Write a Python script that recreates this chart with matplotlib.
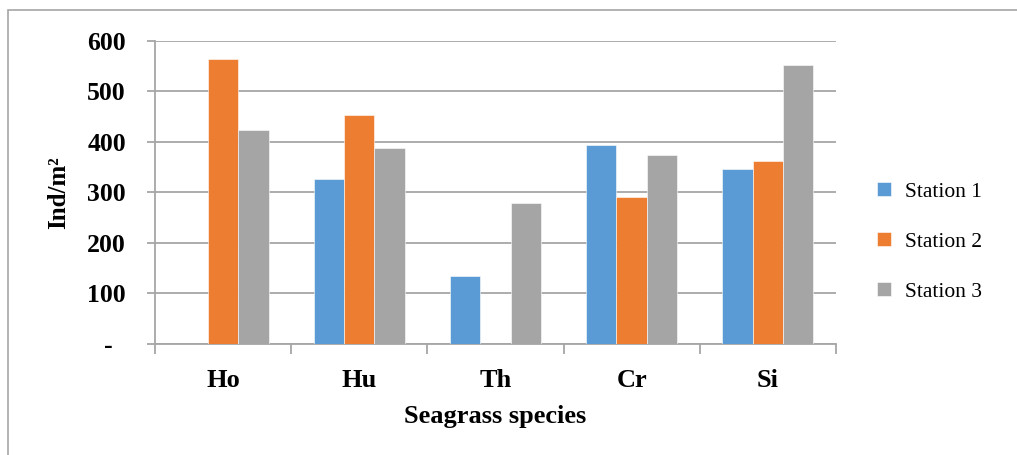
import matplotlib.pyplot as plt
import numpy as np
from matplotlib.patches import Rectangle

species = ['Ho', 'Hu', 'Th', 'Cr', 'Si']
station1 = [0, 327, 134, 393, 346]
station2 = [565, 453, 0, 292, 362]
station3 = [424, 389, 279, 374, 552]
stations = ['Station 1', 'Station 2', 'Station 3']
colors = ['#5B9BD5', '#ED7D31', '#A5A5A5']
yticks = [0, 100, 200, 300, 400, 500, 600]
ytick_labels = ['-  ', '100', '200', '300', '400', '500', '600']

plt.rcParams['font.family'] = ['Liberation Serif', 'DejaVu Serif']

fig = plt.figure(figsize=(10.17, 4.55), dpi=100)
ax = fig.add_axes([0.1524, 0.244, 0.6696, 0.666])

# outer chart border (top + left only visible)
fig.patches.append(Rectangle((0.008, -0.05), 1.1, 1.028, transform=fig.transFigure,
                             fill=False, edgecolor='#A6A6A6', linewidth=1.2))

x = np.arange(len(species))
w = 0.223
for i, (vals, lab) in enumerate(zip([station1, station2, station3], stations)):
    ax.bar(x + (i - 1) * w, vals, w, color=colors[i], label=lab,
           edgecolor='white', linewidth=0.4, zorder=3)

ax.set_xlim(-0.5, len(species) - 0.5)
ax.set_ylim(0, 600)
ax.set_yticks(yticks)
ax.set_yticklabels(ytick_labels, fontsize=18.5, fontweight='bold')
ax.yaxis.grid(True, color='#A6A6A6', linewidth=1.3, zorder=0)
ax.tick_params(axis='y', length=6, width=1.3, color='#A6A6A6', pad=15)

ax.set_xticks(x)
ax.set_xticklabels(species, fontsize=19, fontweight='bold')
ax.tick_params(axis='x', which='major', length=0, pad=18)
ax.set_xticks(np.arange(len(species) + 1) - 0.5, minor=True)
ax.tick_params(axis='x', which='minor', length=7, width=1.3, color='#A6A6A6')

for s in ['top', 'right']:
    ax.spines[s].set_visible(False)
for s in ['left', 'bottom']:
    ax.spines[s].set_color('#A6A6A6')
    ax.spines[s].set_linewidth(1.3)

ax.set_ylabel('Ind/m²', fontsize=18, fontweight='bold', labelpad=12)
ax.set_xlabel('Seagrass species', fontsize=19, fontweight='bold', labelpad=9.5)

ax.legend(loc='center left', bbox_to_anchor=(1.032, 0.337), frameon=False,
          fontsize=15.5, handlelength=0.65, handleheight=0.65,
          handletextpad=0.65, labelspacing=1.4)

fig.savefig('out.png', dpi=100)
